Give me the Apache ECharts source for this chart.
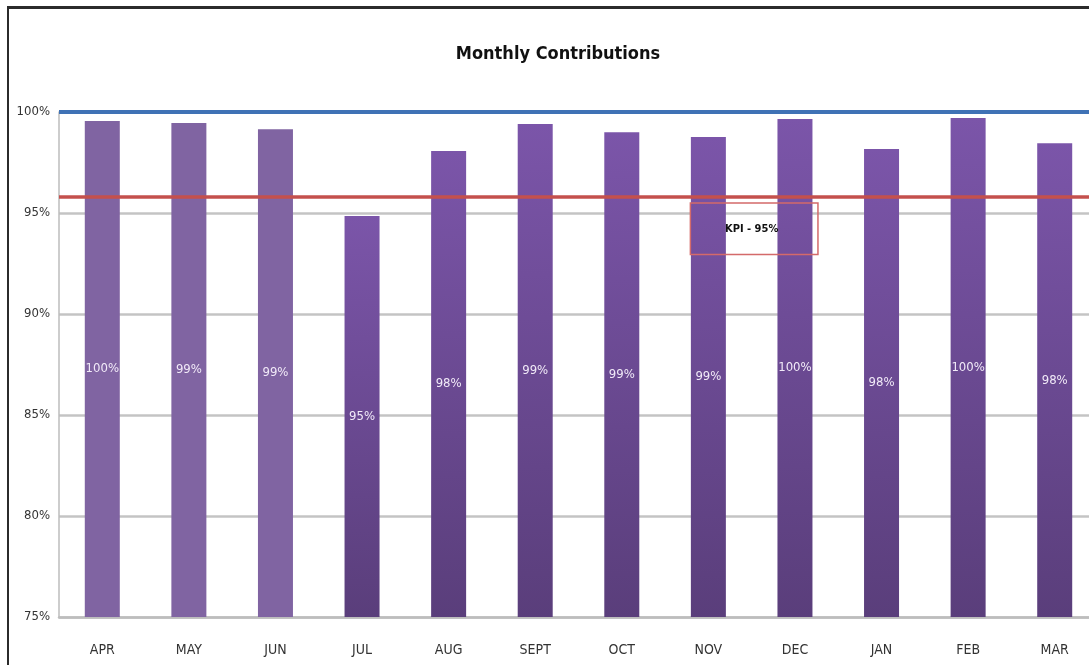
<!DOCTYPE html>
<html>
<head>
<meta charset="utf-8">
<title>Monthly Contributions</title>
<script src="https://cdn.jsdelivr.net/npm/echarts@6/dist/echarts.min.js"></script>
<style>
  html, body { margin: 0; padding: 0; background: #fff; }
  /* the plot runs a little past the right edge of the picture, so the chart is wider than the view */
  #wrap { position: relative; width: 1089px; height: 665px; overflow: hidden; }
  #chart { width: 1100px; height: 665px; }
  #frame {
    position: absolute; left: 7px; top: 6px; right: -10px; bottom: -10px;
    border-top: 3px solid #2b2b2b; border-left: 2px solid #2b2b2b;
    pointer-events: none;
  }
</style>
</head>
<body>
<div id="wrap">
  <div id="chart"></div>
  <div id="frame"></div>
</div>
<script>
// data
const months = ["APR", "MAY", "JUN", "JUL", "AUG", "SEPT", "OCT", "NOV", "DEC", "JAN", "FEB", "MAR"];
const contributions = [99.55, 99.45, 99.15, 94.85, 98.07, 99.4, 99.0, 98.76, 99.65, 98.17, 99.7, 98.45];
const lighterMonths = ["APR", "MAY", "JUN"]; // drawn in flat lighter purple
const yMin = 75;
const yMax = 100;
const yStep = 5;
const targetValue = 100;   // blue line
const kpiValue = 95.8;     // red line
const kpiText = "KPI - 95%";
const kpiBox = { from: "NOV", to: "DEC", top: 95.5, bottom: 92.95 };

const FONT = "'Liberation Sans Narrow', 'DejaVu Sans Condensed', 'Liberation Sans', sans-serif";

const chartInstance = echarts.init(document.getElementById("chart"), null, { renderer: "canvas" });

const darkGradient = new echarts.graphic.LinearGradient(0, 0, 0, 1, [
  { offset: 0, color: "#7B55A9" },
  { offset: 1, color: "#5A3E7B" },
]);

const option = {
  animation: false,
  backgroundColor: "#ffffff",
  title: {
    text: "Monthly Contributions",
    left: 553,
    top: 40,
    textAlign: "center",
    textStyle: { fontFamily: FONT, fontSize: 18, fontWeight: "bold", color: "#111" },
  },
  grid: { left: 59, right: 2, top: 112, bottom: 48, containLabel: false },
  xAxis: {
    type: "category",
    data: months,
    axisLine: { show: true, lineStyle: { color: "#BDBDBD", width: 2.5 } },
    axisTick: { show: false },
    axisLabel: { margin: 26, fontFamily: FONT, fontSize: 14, color: "#333" },
  },
  yAxis: {
    type: "value",
    min: yMin,
    max: yMax,
    interval: yStep,
    axisLine: { show: true, lineStyle: { color: "#BDBDBD", width: 1.5 } },
    axisTick: { show: false },
    axisLabel: {
      margin: 9,
      fontFamily: FONT,
      fontSize: 13,
      color: "#333",
      formatter: "{value}%",
    },
    splitLine: { show: true, lineStyle: { color: "#C4C4C4", width: 2.5 } },
  },
  series: [
    {
      name: "Contributions",
      type: "bar",
      barWidth: 35,
      data: contributions.map((v, i) => ({
        value: v,
        itemStyle: { color: lighterMonths.includes(months[i]) ? "#8064A2" : darkGradient },
      })),
      label: {
        show: true,
        position: "inside",
        fontFamily: FONT,
        fontSize: 13,
        color: "#F1EAF8",
        formatter: (p) => Math.round(p.value) + "%",
      },
      markLine: {
        silent: true,
        symbol: "none",
        label: { show: false },
        data: [
          { yAxis: targetValue, lineStyle: { color: "#3F72B5", width: 4, type: "solid" } },
          { yAxis: kpiValue, lineStyle: { color: "#C4504D", width: 3.5, type: "solid" } },
        ],
      },
    },
  ],
};

chartInstance.setOption(option);

// KPI annotation box, placed through the axes
const topLeft = chartInstance.convertToPixel({ gridIndex: 0 }, [kpiBox.from, kpiBox.top]);
const bottomRight = chartInstance.convertToPixel({ gridIndex: 0 }, [kpiBox.to, kpiBox.bottom]);
const boxX = topLeft[0] - 18;
const boxW = bottomRight[0] + 23 - boxX;
chartInstance.setOption({
  graphic: [
    {
      type: "rect",
      shape: { x: boxX, y: topLeft[1], width: boxW, height: bottomRight[1] - topLeft[1] },
      style: { fill: "rgba(0,0,0,0)", stroke: "#D46A6A", lineWidth: 1.5 },
      z: 10,
    },
    {
      type: "text",
      x: (topLeft[0] + bottomRight[0]) / 2,
      y: (topLeft[1] + bottomRight[1]) / 2,
      style: {
        text: kpiText,
        fill: "#111",
        font: "bold 11px " + FONT,
        textAlign: "center",
        textVerticalAlign: "middle",
      },
      z: 11,
    },
  ],
});

window.addEventListener("resize", () => chartInstance.resize());
</script>
</body>
</html>
